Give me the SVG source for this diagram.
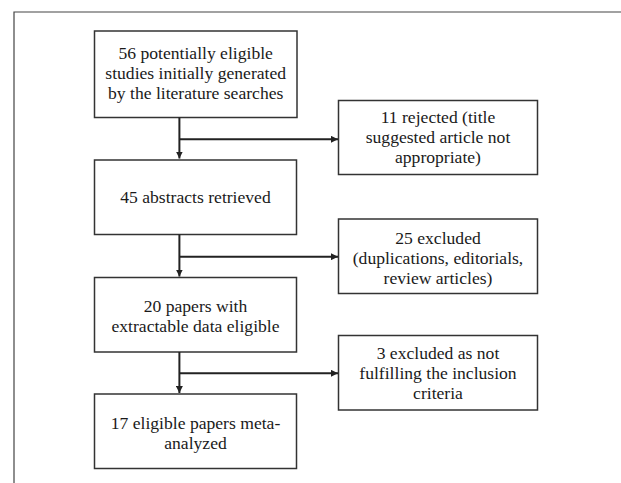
<svg xmlns="http://www.w3.org/2000/svg" width="621" height="483" viewBox="0 0 621 483">
<style>
.box{fill:#fff;stroke:#333;stroke-width:1.5}
.t{font-family:"Liberation Serif","Times New Roman",serif;font-size:17.6px;fill:#1a1a1a;text-anchor:middle}
.c{fill:none;stroke:#222;stroke-width:2}
</style>
<defs>
<marker id="ah" viewBox="0 0 10 10" refX="10" refY="5" markerWidth="7" markerHeight="7" markerUnits="userSpaceOnUse" orient="auto">
<path d="M0,0 L10,5 L0,10 z" fill="#222"/>
</marker>
</defs>
<rect width="621" height="483" fill="#fff"/>
<path d="M14,483 V12 H621" fill="none" stroke="#444" stroke-width="1.2"/>
<g id="n1"><rect class="box" x="94.5" y="31" width="202.5" height="86.5"/>
<text class="t" x="195.7" y="59">56 potentially eligible</text>
<text class="t" x="195.7" y="79">studies initially generated</text>
<text class="t" x="195.7" y="99">by the literature searches</text></g>
<g id="r1"><rect class="box" x="338.5" y="100.5" width="199" height="74"/>
<text class="t" x="438" y="123">11 rejected (title</text>
<text class="t" x="438" y="143">suggested article not</text>
<text class="t" x="438" y="163">appropriate)</text></g>
<g id="n2"><rect class="box" x="94.5" y="160" width="202" height="74.5"/>
<text class="t" x="195.5" y="203">45 abstracts retrieved</text></g>
<g id="r2"><rect class="box" x="338.5" y="219" width="199" height="74.5"/>
<text class="t" x="438" y="244">25 excluded</text>
<text class="t" x="438" y="264">(duplications, editorials,</text>
<text class="t" x="438" y="284">review articles)</text></g>
<g id="n3"><rect class="box" x="94.5" y="277.5" width="202" height="74.5"/>
<text class="t" x="195.5" y="312">20 papers with</text>
<text class="t" x="195.5" y="332">extractable data eligible</text></g>
<g id="r3"><rect class="box" x="338.5" y="335.5" width="199" height="74.5"/>
<text class="t" x="438" y="359">3 excluded as not</text>
<text class="t" x="438" y="379">fulfilling the inclusion</text>
<text class="t" x="438" y="399">criteria</text></g>
<g id="n4"><rect class="box" x="94.5" y="394" width="202" height="74.5"/>
<text class="t" x="195.5" y="429">17 eligible papers meta-</text>
<text class="t" x="195.5" y="449">analyzed</text></g>
<g id="connectors">
<path class="c" d="M179.4,117.5 V158.5" marker-end="url(#ah)"/>
<path class="c" d="M179.4,139.3 H338" marker-end="url(#ah)"/>
<path class="c" d="M179.4,234.5 V276.5" marker-end="url(#ah)"/>
<path class="c" d="M179.4,256.7 H338" marker-end="url(#ah)"/>
<path class="c" d="M179.4,352 V393" marker-end="url(#ah)"/>
<path class="c" d="M179.4,373.3 H338" marker-end="url(#ah)"/>
</g>
</svg>
